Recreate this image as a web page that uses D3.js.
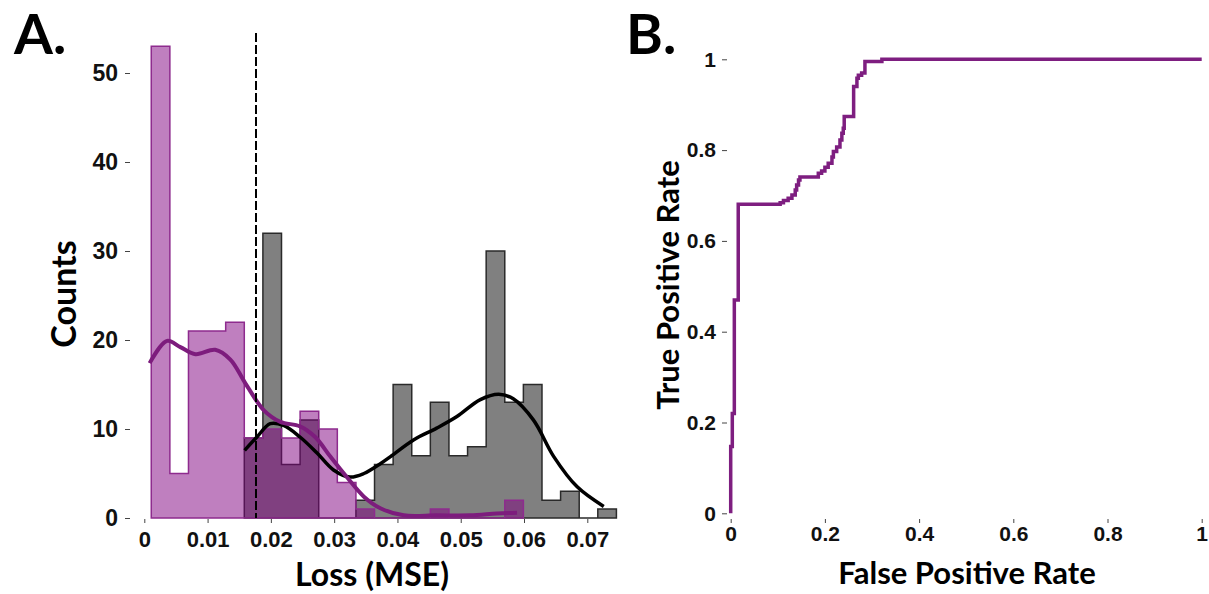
<!DOCTYPE html>
<html>
<head>
<meta charset="utf-8">
<script src="https://cdn.jsdelivr.net/npm/d3@7"></script>
<style>
body { margin: 0; background: #fff; }
svg { display: block; font-family: Lato, "Open Sans", sans-serif; font-weight: 700; }
.tick line { stroke: #444; stroke-width: 1; }
.tick text { fill: #111; }
</style>
</head>
<body>
<svg id="chart" width="1209" height="594"></svg>
<script>
//Histogram bins are shared by both groups (loss values, MSE).
var binStart = 0.0011;
var binWidth = 0.00294;

//Counts per bin. Normal samples start at bin 0, anomalies at bin 5.
var normalCounts = [53, 5, 21, 21, 22, 9, 10, 9, 12, 10, 4, 1, 0, 0, 0, 1, 0, 0, 0, 2];
var anomalyFirstBin = 5;
var anomalyCounts = [9, 32, 6, 11, 0, 0, 2, 6, 15, 7, 13, 7, 8, 30, 13, 15, 2, 3, 0, 1];

//Density curves, [loss, counts].
var normalKde = [[0.00084, 17.4], [0.0036, 19.9], [0.0057, 19.2], [0.0081, 18.4], [0.0112, 18.9],
    [0.0136, 17.8], [0.0160, 15.1], [0.0189, 12.1], [0.0215, 10.8], [0.0246, 10.3], [0.0270, 9.1],
    [0.0294, 6.9], [0.0320, 4.6], [0.0347, 2.4], [0.0373, 1.1], [0.0410, 0.3], [0.0462, 0.3],
    [0.0515, 0.3], [0.0557, 0.5], [0.0589, 0.6]];
var anomalyKde = [[0.01585, 7.6], [0.0178, 9.1], [0.0199, 10.6], [0.0220, 10.4], [0.0246, 9.1],
    [0.0273, 7.3], [0.0299, 5.4], [0.0325, 4.6], [0.0347, 5.0], [0.0373, 6.1], [0.0389, 6.9],
    [0.0426, 8.8], [0.0462, 10.1], [0.0494, 11.4], [0.0531, 13.3], [0.0560, 13.9], [0.0583, 13.4],
    [0.0615, 11.0], [0.0647, 6.9], [0.0684, 3.5], [0.0726, 1.3]];
var threshold = 0.01765;

var lossTicks = [0, 0.01, 0.02, 0.03, 0.04, 0.05, 0.06, 0.07];
var countTicks = [0, 10, 20, 30, 40, 50];

//ROC curve, [false positive rate, true positive rate].
var rocPoints = [[0, 0], [0, 0.147], [0.0034, 0.147], [0.0034, 0.22], [0.0077, 0.22], [0.0077, 0.47],
    [0.016, 0.47], [0.016, 0.681], [0.105, 0.681], [0.112, 0.684], [0.122, 0.689], [0.13, 0.694],
    [0.137, 0.701], [0.14, 0.712], [0.144, 0.723], [0.147, 0.734], [0.151, 0.741], [0.186, 0.741],
    [0.193, 0.749], [0.2, 0.754], [0.207, 0.762], [0.215, 0.771], [0.218, 0.785], [0.225, 0.797],
    [0.232, 0.807], [0.236, 0.822], [0.239, 0.837], [0.241, 0.848], [0.243, 0.874], [0.261, 0.874],
    [0.261, 0.929], [0.268, 0.94], [0.271, 0.958], [0.278, 0.965], [0.285, 0.97], [0.289, 0.995],
    [0.321, 0.995], [0.323, 1], [1, 1]];
var rateTicks = [0, 0.2, 0.4, 0.6, 0.8, 1];

var svg = d3.select("#chart");

//Panel A: loss histogram, drawn as filled steps (no inner bar edges)
var x = d3.scaleLinear().domain([0, 0.07]).range([144.3, 587.3]);
var y = d3.scaleLinear().domain([0, 50]).range([518, 73]);

function stepPoints(counts, first) {
    var pts = counts.map(function(c, i) { return [binStart + (first + i) * binWidth, c]; });
    pts.push([binStart + (first + counts.length) * binWidth, counts[counts.length - 1]]);
    return pts;
}
var histArea = d3.area().curve(d3.curveStepAfter)
    .x(function(d) { return x(d[0]); }).y0(y(0)).y1(function(d) { return y(d[1]); });

svg.append("path").attr("d", histArea(stepPoints(anomalyCounts, anomalyFirstBin)))
    .attr("fill", "#808080").attr("stroke", "#2a2a2a").attr("stroke-width", 1.5);
svg.append("path").attr("d", histArea(stepPoints(normalCounts, 0)))
    .attr("fill", "#800080").attr("fill-opacity", 0.5).attr("stroke", "#8e2b8e").attr("stroke-width", 1.5);

var kdeLine = d3.line().x(function(d) { return x(d[0]); }).y(function(d) { return y(d[1]); })
    .curve(d3.curveCatmullRom);
svg.append("path").attr("d", kdeLine(anomalyKde)).attr("fill", "none").attr("stroke", "#000").attr("stroke-width", 3.5);
svg.append("path").attr("d", kdeLine(normalKde)).attr("fill", "none").attr("stroke", "#7d1c7d").attr("stroke-width", 4);

svg.append("line").attr("x1", x(threshold)).attr("x2", x(threshold)).attr("y1", 33).attr("y2", y(0))
    .attr("stroke", "#000").attr("stroke-width", 2).attr("stroke-dasharray", "9,3");

var axA_y = svg.append("g").attr("transform", "translate(130,0)")
    .call(d3.axisLeft(y).tickValues(countTicks).tickSize(5).tickPadding(7).tickFormat(function(d) { return d; }));
var axA_x = svg.append("g").attr("transform", "translate(0,519)")
    .call(d3.axisBottom(x).tickValues(lossTicks).tickSize(4).tickPadding(8).tickFormat(function(d) { return d; }));
axA_y.selectAll("text").attr("font-size", 23);
axA_x.selectAll("text").attr("font-size", 22);
[axA_y, axA_x].forEach(function(a) {
    a.select(".domain").remove();
    a.selectAll("text").attr("font-family", null);
});

//Panel B: ROC curve
var fx = d3.scaleLinear().domain([0, 1]).range([730.7, 1201.7]);
var fy = d3.scaleLinear().domain([0, 1]).range([513.3, 59.3]);

var rocLine = d3.line().x(function(d) { return fx(d[0]); }).y(function(d) { return fy(d[1]); })
    .curve(d3.curveStepBefore);
svg.append("path").attr("d", rocLine(rocPoints)).attr("fill", "none").attr("stroke", "#7e1e80").attr("stroke-width", 3.5);

var axB_y = svg.append("g").attr("transform", "translate(727,0)")
    .call(d3.axisLeft(fy).tickValues(rateTicks).tickSize(5).tickPadding(6).tickFormat(function(d) { return d; }));
var axB_x = svg.append("g").attr("transform", "translate(0,519)")
    .call(d3.axisBottom(fx).tickValues(rateTicks).tickSize(4).tickPadding(3).tickFormat(function(d) { return d; }));
[axB_y, axB_x].forEach(function(a) {
    a.select(".domain").remove();
    a.selectAll("text").attr("font-size", 21).attr("font-family", null);
});

//titles and panel letters
svg.append("text").attr("x", 372).attr("y", 586).attr("text-anchor", "middle").attr("font-size", 32).text("Loss (MSE)");
svg.append("text").attr("transform", "translate(76,294) rotate(-90)").attr("text-anchor", "middle").attr("font-size", 34).text("Counts");
svg.append("text").attr("x", 967).attr("y", 584).attr("text-anchor", "middle").attr("font-size", 31).text("False Positive Rate");
svg.append("text").attr("transform", "translate(679,285) rotate(-90)").attr("text-anchor", "middle").attr("font-size", 31).text("True Positive Rate");
svg.append("text").attr("x", 14).attr("y", 54).attr("font-size", 56).text("A.");
svg.append("text").attr("x", 626).attr("y", 54).attr("font-size", 56).text("B.");
</script>
</body>
</html>
